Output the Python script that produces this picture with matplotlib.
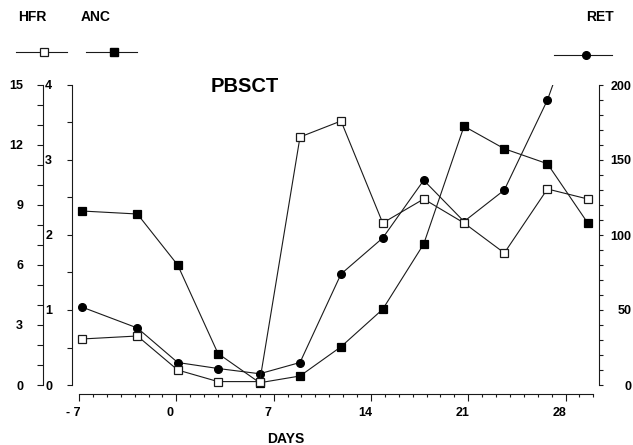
import matplotlib
matplotlib.use("Agg")
import matplotlib.pyplot as plt
from matplotlib.lines import Line2D
from matplotlib.ticker import MultipleLocator
from matplotlib.transforms import ScaledTranslation

plt.rcParams['font.family'] = ['Liberation Sans', 'DejaVu Sans']
plt.rcParams['font.weight'] = 'bold'

# sampling days (roughly every 3 days)
days = [-6.8, -2.8, 0.1, 3.0, 6.0, 8.9, 11.85, 14.85, 17.8, 20.7, 23.6, 26.7, 29.6]
hfr = [2.3, 2.45, 0.75, 0.17, 0.17, 12.4, 13.2, 8.1, 9.3, 8.1, 6.6, 9.8, 9.3]
anc = [2.32, 2.28, 1.6, 0.42, 0.03, 0.12, 0.51, 1.01, 1.88, 3.45, 3.15, 2.95, 2.16]
ret = [52, 38, 15, 11, 7.5, 15, 74, 98, 136.5, 109, 130, 190, 265]

x_ticks = [-7, 0, 7, 14, 21, 28]
x_labels = ['- 7', '0', '7', '14', '21', '28']

LC = '#1a1a1a'
LW = 0.8
MS = 5.5

fig = plt.figure(figsize=(6.33, 4.45), dpi=100)
W, H = 633.0, 445.0

# host axes carries the x axis and the RET scale (right)
ax = fig.add_axes([79 / W, 1 - 385 / H, (593.3 - 79) / W, 300 / H])
ax_anc = ax.twinx()
ax_hfr = ax.twinx()


def series(a, y, marker, face):
    # line clipped to the box, markers allowed to sit on the edge
    a.plot(days, y, color=LC, lw=LW)
    a.plot(days, y, ls='none', marker=marker, ms=MS, mfc=face, mec=LC if face == 'white' else 'black',
           mew=0.9, clip_on=False)


ax.set_ylim(0, 200)
ax_anc.set_ylim(0, 4)
ax_hfr.set_ylim(0, 15)

# RET above 200 at the last day runs off the top, keep only visible points as markers
ax.plot(days, ret, color=LC, lw=LW)
ax.plot([d for d, v in zip(days, ret) if v <= 200], [v for v in ret if v <= 200],
        ls='none', marker='o', ms=MS, mfc='black', mec='black', clip_on=False)
series(ax_anc, anc, 's', 'black')
series(ax_hfr, hfr, 's', 'white')

ax.set_xlim(-7, 30)

for a in (ax, ax_anc, ax_hfr):
    for s in a.spines.values():
        s.set_visible(False)
        s.set_linewidth(LW)
        s.set_color(LC)

# x axis
ax.spines['bottom'].set_visible(True)
ax.spines['bottom'].set_position(('outward', 6.5))
ax.set_xticks(x_ticks)
ax.set_xticklabels(x_labels)
ax.xaxis.set_minor_locator(MultipleLocator(1))
ax.tick_params(axis='x', which='major', length=4.7, width=LW, color=LC, pad=5, labelsize=9)
ax.tick_params(axis='x', which='minor', length=2.5, width=LW, color=LC)
shift = ScaledTranslation(-6 / 100, 0, fig.dpi_scale_trans)
for lab in ax.get_xticklabels():
    lab.set_transform(lab.get_transform() + shift)
ax.set_xlabel('DAYS', fontsize=10, fontweight='bold')
ax.xaxis.set_label_coords((285.5 - 79) / 514.3, -0.157)

# RET on the right
ax.yaxis.tick_right()
ax.spines['right'].set_visible(True)
ax.spines['right'].set_position(('outward', 4.3))
ax.set_yticks([0, 50, 100, 150, 200])
ax.yaxis.set_minor_locator(MultipleLocator(10))
ax.tick_params(axis='y', which='both', length=3, width=LW, color=LC, pad=20, labelsize=9,
               left=False, right=True, labelleft=False, labelright=True)
for lab in ax.get_yticklabels():
    lab.set_horizontalalignment('right')

# ANC inner left
ax_anc.yaxis.tick_left()
ax_anc.spines['left'].set_visible(True)
ax_anc.spines['left'].set_position(('outward', 5))
ax_anc.set_yticks([0, 1, 2, 3, 4])
ax_anc.yaxis.set_minor_locator(MultipleLocator(0.5))
ax_anc.tick_params(axis='y', which='both', length=3.6, width=LW, color=LC, pad=10.8, labelsize=9)

# HFR outer left
ax_hfr.yaxis.tick_left()
ax_hfr.spines['left'].set_visible(True)
ax_hfr.spines['left'].set_position(('outward', 25.9))
ax_hfr.set_yticks([0, 3, 6, 9, 12, 15])
ax_hfr.yaxis.set_minor_locator(MultipleLocator(1))
ax_hfr.tick_params(axis='y', which='both', length=4.3, width=LW, color=LC, pad=10, labelsize=9)

fig.text(244.5 / W, 1 - 87 / H, 'PBSCT', fontsize=14.5, fontweight='bold', ha='center', va='center')

# legend keys
fig.text(32 / W, 1 - 17 / H, 'HFR', fontsize=10, fontweight='bold', ha='center', va='center')
fig.text(96 / W, 1 - 17 / H, 'ANC', fontsize=10, fontweight='bold', ha='center', va='center')
fig.text(600 / W, 1 - 17 / H, 'RET', fontsize=10, fontweight='bold', ha='center', va='center')
fig.add_artist(Line2D([16 / W, 67 / W], [1 - 52 / H] * 2, color=LC, lw=LW))
fig.add_artist(Line2D([44 / W], [1 - 52 / H], marker='s', ms=MS, mfc='white', mec=LC, mew=0.9))
fig.add_artist(Line2D([86 / W, 137 / W], [1 - 52 / H] * 2, color=LC, lw=LW))
fig.add_artist(Line2D([114 / W], [1 - 52 / H], marker='s', ms=MS, mfc='black', mec='black'))
fig.add_artist(Line2D([554 / W, 612 / W], [1 - 55 / H] * 2, color=LC, lw=LW))
fig.add_artist(Line2D([586 / W], [1 - 55 / H], marker='o', ms=MS, mfc='black', mec='black'))

fig.savefig('out.png', dpi=100)
